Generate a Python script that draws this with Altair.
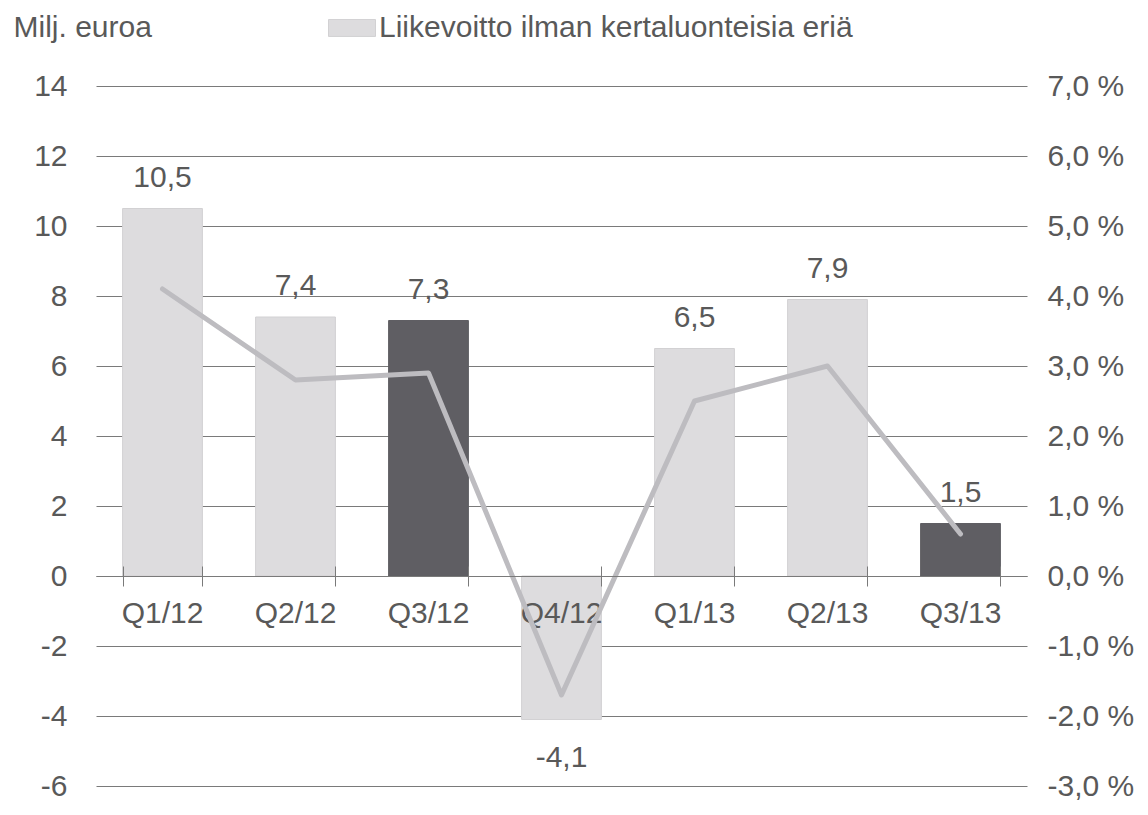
import altair as alt
import pandas as pd

quarters = ["Q1/12", "Q2/12", "Q3/12", "Q4/12", "Q1/13", "Q2/13", "Q3/13"]
ebit = [10.5, 7.4, 7.3, -4.1, 6.5, 7.9, 1.5]
margin_pct = [4.1, 2.8, 2.9, -1.7, 2.5, 3.0, 0.6]
is_q3 = [False, False, True, False, False, False, True]
series_name = "Liikevoitto ilman kertaluonteisia eriä"
left_ticks = [-6, -4, -2, 0, 2, 4, 6, 8, 10, 12, 14]
right_ticks = [-3, -2, -1, 0, 1, 2, 3, 4, 5, 6, 7]

df = pd.DataFrame({"quarter": quarters, "ebit": ebit, "margin": margin_pct, "q3": is_q3})
df["series"] = series_name

FONT = "Liberation Sans"
FS = 30
TXT = "#595959"
GRID = "#7A7A7A"
LIGHT = "#DDDCDE"
LIGHT_EDGE = "#D2D1D3"
DARK = "#5F5E63"
LINE = "#BDBCC0"

W, H = 931, 700
ZERO_FROM_BOTTOM = H * 6 / 20
ZERO_FROM_TOP = H * 14 / 20

xscale = alt.Scale(domain=quarters, paddingInner=0.4, paddingOuter=0.2)
yleft = alt.Scale(domain=[-6, 14], nice=False, zero=False)
yright = alt.Scale(domain=[-3, 7], nice=False, zero=False)

x_axis_bottom = alt.Axis(orient="bottom", offset=-ZERO_FROM_BOTTOM, labels=False, title=None,
                         domain=True, domainColor=GRID, domainWidth=1,
                         ticks=True, tickBand="extent", tickSize=10, tickColor=GRID,
                         tickWidth=1, grid=False, zindex=1)
x_axis_top = alt.Axis(orient="top", offset=-ZERO_FROM_TOP, labels=False, title=None,
                      domain=False, ticks=True, tickBand="extent", tickSize=10,
                      tickColor=GRID, tickWidth=1, grid=False, zindex=1)

y_axis_left = alt.Axis(values=left_ticks, title="Milj. euroa", titleAngle=0,
                       titleAlign="left", titleBaseline="middle", titleX=-83, titleY=-59,
                       titleFont=FONT, titleFontSize=FS, titleFontWeight="normal",
                       titleColor=TXT, labelFont=FONT, labelFontSize=FS, labelColor=TXT,
                       labelPadding=29, ticks=False, domain=False, grid=True,
                       gridColor=GRID, gridWidth=1,
                       labelExpr="(datum.value < 0 ? '-' : '') + abs(datum.value)")
y_axis_right = alt.Axis(orient="right", values=right_ticks, title=None,
                        labelFont=FONT, labelFontSize=FS, labelColor=TXT,
                        labelPadding=20, ticks=False, domain=False, grid=False,
                        labelExpr="(datum.value < 0 ? '-' : '') + replace(format(abs(datum.value), '.1f'), '.', ',') + ' %'")

x_b = alt.X("quarter:N", scale=xscale, sort=quarters, axis=x_axis_bottom)
y_l = alt.Y("ebit:Q", scale=yleft, axis=y_axis_left)

base = alt.Chart(df)

bars = base.mark_bar(strokeWidth=1).encode(
    x=x_b,
    y=y_l,
    color=alt.condition(
        "datum.q3",
        alt.value(DARK),
        alt.Color("series:N", scale=alt.Scale(domain=[series_name], range=[LIGHT]),
                  legend=alt.Legend(orient="none", legendX=232, legendY=-82, title=None,
                                    symbolType="M-1,-0.36H1V0.36H-1Z", symbolSize=2209,
                                    symbolStrokeWidth=1, symbolStrokeColor=LIGHT_EDGE,
                                    labelFont=FONT, labelFontSize=FS,
                                    labelColor=TXT, labelOffset=3, labelLimit=900,
                                    padding=0)),
    ),
    stroke=alt.condition("datum.q3", alt.value(DARK), alt.value(LIGHT_EDGE)),
)

lbl_expr = "(datum.ebit < 0 ? '-' : '') + replace(format(abs(datum.ebit), '.1f'), '.', ',')"

pos_labels = base.transform_filter("datum.ebit >= 0").transform_calculate(
    lbl=lbl_expr
).mark_text(font=FONT, fontSize=FS, color=TXT, dy=-31, baseline="middle").encode(
    x=x_b, y=y_l, text="lbl:N"
)
neg_labels = base.transform_filter("datum.ebit < 0").transform_calculate(
    lbl=lbl_expr
).mark_text(font=FONT, fontSize=FS, color=TXT, dy=38, baseline="middle").encode(
    x=x_b, y=y_l, text="lbl:N"
)
cat_labels = base.mark_text(font=FONT, fontSize=FS, color=TXT, dy=38, baseline="middle").encode(
    x=x_b, y=alt.YDatum(0, scale=yleft, axis=y_axis_left), text="quarter:N"
)

left_layer = alt.layer(bars, pos_labels, neg_labels, cat_labels)

line = base.mark_line(color=LINE, strokeWidth=5, strokeCap="round", strokeJoin="round").encode(
    x=alt.X("quarter:N", scale=xscale, sort=quarters, axis=x_axis_top),
    y=alt.Y("margin:Q", scale=yright, axis=y_axis_right),
)

chart = alt.layer(left_layer, line).resolve_scale(y="independent").resolve_axis(
    x="independent"
).properties(
    width=W, height=H,
    autosize=alt.AutoSizeParams(type="none"),
    padding={"left": 88, "top": 78, "right": 110, "bottom": 20},
).configure_view(stroke=None)

chart.save("out.html", embed_options={"renderer": "svg", "actions": False})
